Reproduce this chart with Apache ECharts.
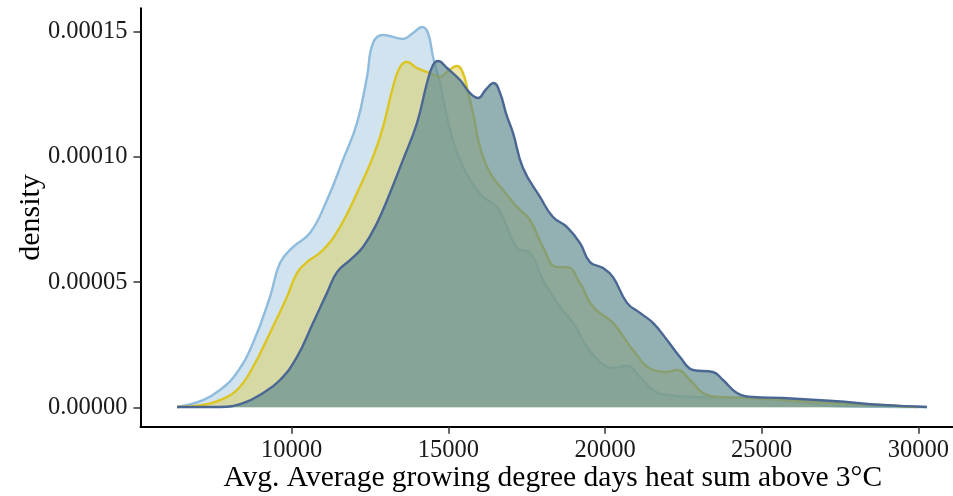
<!DOCTYPE html>
<html>
<head>
<meta charset="utf-8">
<script src="https://cdn.jsdelivr.net/npm/echarts@6/dist/echarts.min.js"></script>
<style>
html,body{margin:0;padding:0;background:#fff;}
#chart{width:953px;height:496px;}
</style>
</head>
<body>
<div id="chart"></div>
<script>
// ---- data ----
const xTicks = [10000, 15000, 20000, 25000, 30000];
const yTicks = [0, 0.00005, 0.0001, 0.00015];
const yTickLabels = ['0.00000', '0.00005', '0.00010', '0.00015'];

const seriesNames = ['Group A', 'Group B', 'Group C'];

const xA = [6340, 7170, 7710, 8245, 8765, 9307, 9627, 10041, 10584, 11127, 11637, 12084, 12403, 12595, 12914, 13552, 13872, 14159, 14350, 14510, 14733, 14957, 15276, 15691, 16106, 16553, 16872, 17191, 17606, 18021, 18564, 18979, 19425, 19840, 20255, 20702, 21117, 21532, 21979, 23032, 24530, 26225, 27282, 30278];
const dA = [0.01e-5, 0.29e-5, 0.69e-5, 1.37e-5, 2.57e-5, 4.41e-5, 5.76e-5, 6.40e-5, 6.96e-5, 8.28e-5, 9.88e-5, 11.35e-5, 13.19e-5, 14.55e-5, 14.87e-5, 14.71e-5, 14.95e-5, 15.19e-5, 14.95e-5, 13.99e-5, 12.95e-5, 11.59e-5, 10.16e-5, 9.08e-5, 8.40e-5, 8.00e-5, 7.20e-5, 6.36e-5, 6.16e-5, 5.08e-5, 4.01e-5, 3.37e-5, 2.41e-5, 1.81e-5, 1.57e-5, 1.65e-5, 1.21e-5, 0.69e-5, 0.49e-5, 0.41e-5, 0.37e-5, 0.21e-5, 0.05e-5, 0.01e-5];

const xB = [6340, 7169, 7712, 8254, 8765, 9307, 9850, 10169, 10488, 10999, 11541, 12084, 12595, 12914, 13233, 13456, 13680, 13999, 14414, 14733, 14957, 15276, 15467, 15627, 15787, 16010, 16329, 16744, 17191, 17606, 18021, 18468, 18787, 19202, 19617, 20255, 20893, 21532, 21979, 22298, 22713, 23128, 23671, 24628, 27186, 28782, 29963];
const dB = [0.01e-5, 0.09e-5, 0.29e-5, 0.69e-5, 1.61e-5, 2.97e-5, 4.41e-5, 5.36e-5, 5.80e-5, 6.28e-5, 7.20e-5, 8.56e-5, 10.00e-5, 11.19e-5, 12.79e-5, 13.59e-5, 13.79e-5, 13.55e-5, 13.35e-5, 13.19e-5, 13.39e-5, 13.63e-5, 13.35e-5, 12.59e-5, 11.75e-5, 10.40e-5, 9.36e-5, 8.68e-5, 8.00e-5, 7.48e-5, 6.40e-5, 5.60e-5, 5.60e-5, 4.96e-5, 4.01e-5, 3.37e-5, 2.29e-5, 1.49e-5, 1.41e-5, 1.49e-5, 1.09e-5, 0.57e-5, 0.41e-5, 0.37e-5, 0.17e-5, 0.09e-5, 0.01e-5];

const xC = [6340, 7712, 8446, 9084, 9627, 10169, 10680, 11127, 11446, 11861, 12276, 12723, 13137, 13552, 13999, 14318, 14510, 14670, 14957, 15372, 15691, 15950, 16200, 16450, 16650, 16850, 17063, 17382, 17925, 18340, 18787, 19202, 19521, 19936, 20255, 20702, 21117, 21532, 21979, 22394, 22809, 23447, 23766, 24213, 24724, 25681, 27282, 28878, 30278];
const dC = [0.01e-5, 0.01e-5, 0.17e-5, 0.57e-5, 1.09e-5, 2.01e-5, 3.37e-5, 4.57e-5, 5.40e-5, 5.88e-5, 6.40e-5, 7.36e-5, 8.56e-5, 9.88e-5, 11.35e-5, 12.95e-5, 13.67e-5, 13.83e-5, 13.55e-5, 13.07e-5, 12.55e-5, 12.35e-5, 12.70e-5, 12.95e-5, 12.55e-5, 11.70e-5, 10.96e-5, 9.56e-5, 8.40e-5, 7.60e-5, 7.20e-5, 6.56e-5, 5.80e-5, 5.56e-5, 5.20e-5, 4.17e-5, 3.77e-5, 3.37e-5, 2.69e-5, 2.01e-5, 1.49e-5, 1.41e-5, 1.09e-5, 0.57e-5, 0.41e-5, 0.37e-5, 0.25e-5, 0.09e-5, 0.01e-5];

// ---- build ----
function pairs(xs, ds) { return xs.map((x, i) => [x, ds[i]]); }

const styles = [
  { line: '#8fbcdc', fill: 'rgba(165,199,225,0.5)' },
  { line: '#dcc520', fill: 'rgba(220,207,90,0.5)' },
  { line: '#4a6794', fill: 'rgba(101,142,146,0.7)' }
];
const datasets = [pairs(xA, dA), pairs(xB, dB), pairs(xC, dC)];

const FONT = '"Liberation Serif", "DejaVu Serif", serif';

const chart = echarts.init(document.getElementById('chart'), null, { renderer: 'canvas' });
chart.setOption({
  animation: false,
  backgroundColor: '#ffffff',
  grid: { left: 140.5, right: -12, top: 8.3, bottom: 69.3, containLabel: false, outerBoundsMode: 'none' },
  xAxis: {
    type: 'value',
    min: 5174,
    max: 31490,
    name: 'Avg. Average growing degree days heat sum above 3°C',
    nameLocation: 'middle',
    nameGap: 37,
    nameMoveOverlap: false,
    nameTextStyle: { fontFamily: FONT, fontSize: 29.5, color: '#000' },
    axisLine: { show: true, onZero: false, lineStyle: { color: '#000', width: 2 } },
    axisTick: { show: true, customValues: xTicks, length: 7, lineStyle: { color: '#333', width: 1.5 } },
    axisLabel: { customValues: xTicks, margin: 11.5, fontFamily: FONT, fontSize: 24.5, color: '#1a1a1a',
      formatter: v => String(v) },
    splitLine: { show: false }
  },
  yAxis: {
    type: 'value',
    min: -0.00000775,
    max: 0.00015935,
    name: 'density',
    nameLocation: 'middle',
    nameGap: 94,
    nameMoveOverlap: false,
    nameTextStyle: { fontFamily: FONT, fontSize: 30, color: '#000' },
    axisLine: { show: true, onZero: false, lineStyle: { color: '#000', width: 2 } },
    axisTick: { show: true, customValues: yTicks, length: 7, lineStyle: { color: '#333', width: 1.5 } },
    axisLabel: { customValues: yTicks, margin: 13, fontFamily: FONT, fontSize: 24.5, color: '#1a1a1a',
      formatter: v => { const i = yTicks.findIndex(t => Math.abs(t - v) < 1e-9); return i >= 0 ? yTickLabels[i] : ''; } },
    splitLine: { show: false }
  },
  series: datasets.map((d, i) => ({
    name: seriesNames[i],
    type: 'line',
    data: d,
    smooth: 0.45,
    symbol: 'none',
    lineStyle: { color: styles[i].line, width: 2.4 },
    itemStyle: { color: styles[i].line },
    areaStyle: { color: styles[i].fill, opacity: 1, origin: 0 },
    z: 2 + i
  }))
});
</script>
</body>
</html>
